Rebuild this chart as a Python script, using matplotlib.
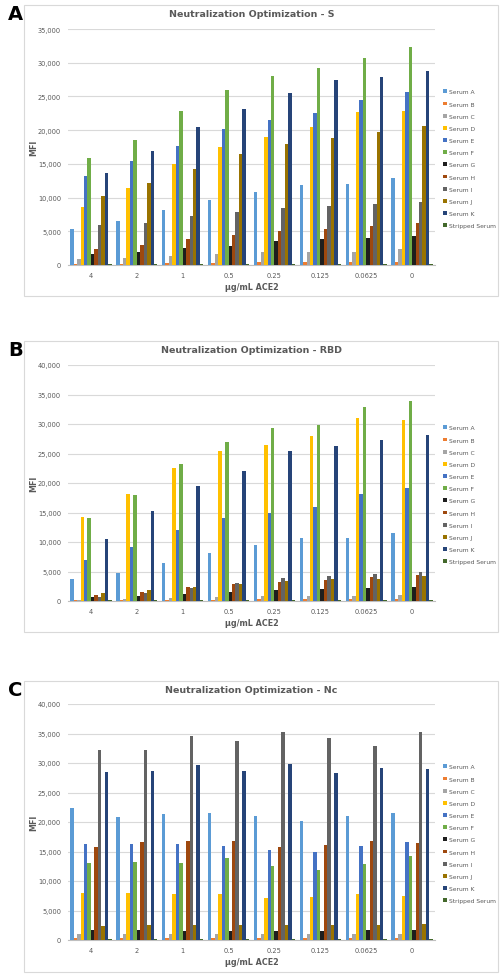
import numpy as np
import matplotlib
matplotlib.use('Agg')
from matplotlib import pyplot as plt
from matplotlib.patches import Rectangle
from matplotlib.ticker import FuncFormatter

# categories / series
doses = ['4', '2', '1', '0.5', '0.25', '0.125', '0.0625', '0']
series = ['Serum A', 'Serum B', 'Serum C', 'Serum D', 'Serum E', 'Serum F',
          'Serum G', 'Serum H', 'Serum I', 'Serum J', 'Serum K', 'Stripped Serum']
colors = ['#5B9BD5', '#ED7D31', '#A5A5A5', '#FFC000', '#4472C4', '#70AD47',
          '#1E1E1E', '#9E480E', '#636363', '#997300', '#264478', '#43682B']

# Panel A - S  (rows = series A..Stripped, cols = doses)
mfi_s = [
    [5400, 6500, 8100, 9700, 10800, 11900, 12000, 12900],
    [200, 150, 250, 300, 400, 400, 450, 450],
    [900, 1100, 1400, 1600, 1900, 1900, 2000, 2300],
    [8600, 11400, 15000, 17500, 19000, 20500, 22700, 22800],
    [13200, 15400, 17600, 20200, 21500, 22500, 24500, 25600],
    [15800, 18500, 22900, 25900, 28000, 29200, 30700, 32300],
    [1700, 1900, 2500, 2800, 3500, 3900, 4000, 4300],
    [2300, 2900, 3800, 4400, 5000, 5300, 5800, 6300],
    [6000, 6300, 7300, 7800, 8500, 8800, 9100, 9400],
    [10200, 12100, 14300, 16400, 18000, 18900, 19700, 20600],
    [13700, 16900, 20400, 23200, 25500, 27500, 27900, 28800],
    [100, 100, 100, 100, 100, 100, 100, 100],
]

# Panel B - RBD
mfi_rbd = [
    [3700, 4800, 6500, 8100, 9500, 10600, 10600, 11500],
    [100, 150, 200, 250, 300, 300, 350, 400],
    [200, 300, 500, 600, 800, 800, 800, 1000],
    [14200, 18100, 22600, 25400, 26500, 27900, 31000, 30600],
    [6900, 9200, 12000, 14100, 14900, 15900, 18100, 19200],
    [14100, 18000, 23200, 26900, 29400, 29900, 32800, 33900],
    [600, 800, 1200, 1500, 1900, 2100, 2200, 2300],
    [1000, 1500, 2300, 2900, 3300, 3600, 4100, 4400],
    [700, 1300, 2200, 3100, 3900, 4200, 4500, 5000],
    [1300, 1800, 2300, 2800, 3400, 3700, 3800, 4200],
    [10500, 15200, 19500, 22100, 25500, 26300, 27300, 28200],
    [100, 100, 100, 100, 100, 100, 100, 100],
]

# Panel C - Nc
mfi_nc = [
    [22300, 20900, 21400, 21600, 21100, 20200, 21100, 21500],
    [400, 400, 400, 400, 400, 400, 400, 400],
    [1100, 1100, 1100, 1100, 1100, 1000, 1100, 1100],
    [7900, 7900, 7800, 7800, 7100, 7300, 7800, 7400],
    [16200, 16200, 16200, 16000, 15300, 15000, 16000, 16600],
    [13100, 13200, 13000, 13900, 12600, 11900, 12900, 14300],
    [1700, 1700, 1600, 1600, 1600, 1600, 1700, 1700],
    [15700, 16600, 16800, 16700, 15700, 16100, 16700, 16500],
    [32200, 32200, 34500, 33800, 35300, 34200, 32800, 35300],
    [2400, 2500, 2600, 2600, 2500, 2600, 2500, 2700],
    [28500, 28700, 29600, 28700, 29900, 28300, 29200, 29000],
    [100, 100, 100, 100, 100, 100, 100, 100],
]

panels = [
    ('A', 'Neutralization Optimization - S', mfi_s, 35000, 6, 30, 266),
    ('B', 'Neutralization Optimization - RBD', mfi_rbd, 40000, 342, 366, 602),
    ('C', 'Neutralization Optimization - Nc', mfi_nc, 40000, 682, 705, 941),
]

W, H = 500, 978
fig = plt.figure(figsize=(W / 100, H / 100), dpi=100)
txt = '#595959'

x = np.arange(len(doses))
bw = 0.075

for letter, title, data, ymax, box_top, ax_top, ax_bot in panels:
    # frame around panel
    fig.patches.append(Rectangle((24 / W, 1 - (box_top + 291) / H), 474 / W, 291 / H,
                                 transform=fig.transFigure, fill=False,
                                 edgecolor='#D9D9D9', linewidth=0.8))
    fig.text(8 / W, 1 - (box_top + 9) / H, letter, fontsize=14, fontweight='bold',
             ha='left', va='center', color='black')

    ax = fig.add_axes([68 / W, 1 - ax_bot / H, 367 / W, (ax_bot - ax_top) / H])
    for i, name in enumerate(series):
        ax.bar(x - 0.45 + bw * (i + 0.5), data[i], width=bw, color=colors[i],
               label=name, zorder=3)

    ax.set_xlim(-0.5, len(doses) - 0.5)
    ax.set_ylim(0, ymax)
    ax.set_yticks(np.arange(0, ymax + 1, 5000))
    ax.yaxis.set_major_formatter(FuncFormatter(lambda v, p: f'{int(v):,}'))
    ax.set_xticks(x)
    ax.set_xticklabels(doses)
    ax.grid(axis='y', color='#D9D9D9', linewidth=0.8, zorder=0)
    for s in ['top', 'right', 'left']:
        ax.spines[s].set_visible(False)
    ax.spines['bottom'].set_color('#BFBFBF')
    ax.tick_params(axis='both', length=0, labelsize=4.8, labelcolor=txt, pad=5)
    ax.set_xlabel('µg/mL ACE2', fontsize=5.8, color=txt, labelpad=3,
                  fontweight='bold')
    ax.set_ylabel('MFI', fontsize=5.8, color=txt, fontweight='bold')
    ax.yaxis.set_label_coords(-0.082, 0.5)
    ax.set_title(title, fontsize=6.8, color=txt, fontweight='bold', pad=0,
                 y=(ax_bot - (box_top + 11)) / (ax_bot - ax_top))

    ax.legend(loc='center left', bbox_to_anchor=(1.008, 0.45), frameon=False,
              fontsize=4.3, handlelength=0.6, handleheight=0.6, handletextpad=0.35,
              labelspacing=1.2, labelcolor=txt)

fig.savefig('out.png', dpi=100, facecolor='white')
